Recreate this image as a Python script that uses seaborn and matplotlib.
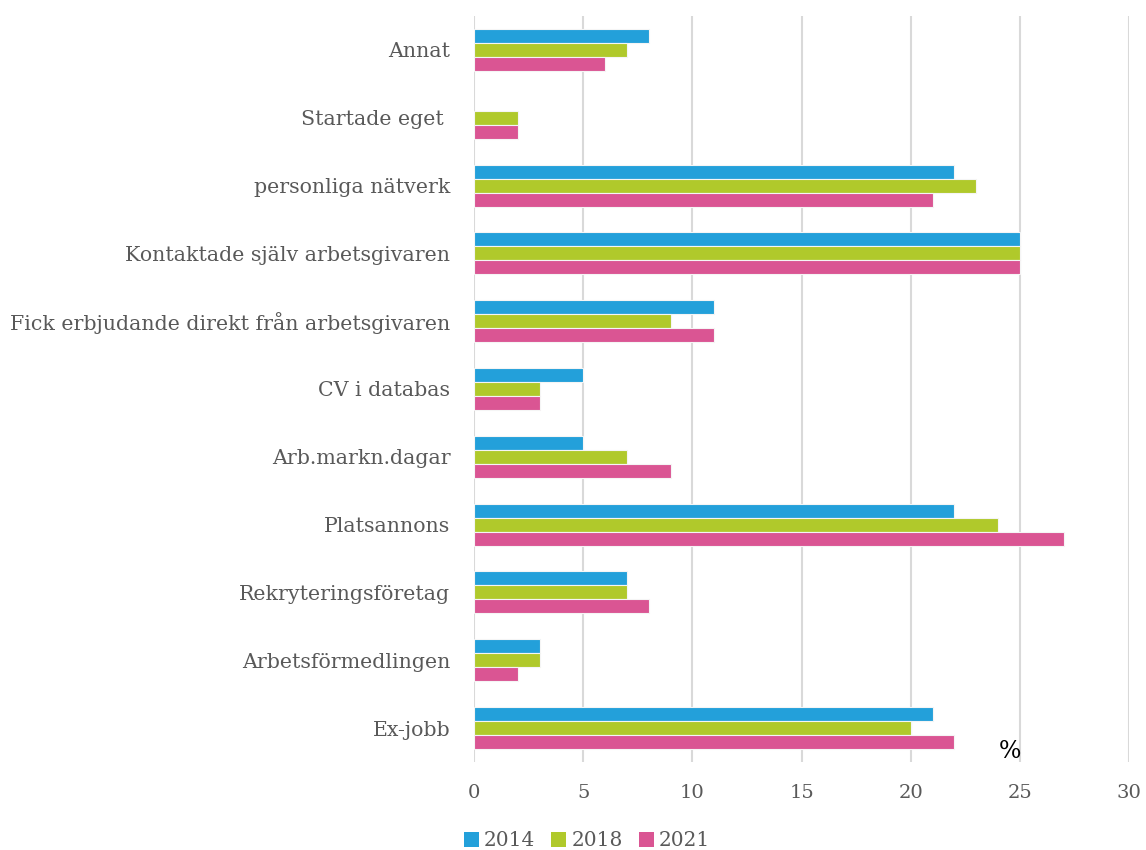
import matplotlib
matplotlib.use("Agg")
import matplotlib.pyplot as plt
import seaborn as sns
import pandas as pd
import numpy as np
from matplotlib.patches import Patch

categories = ["Annat", "Startade eget ", "personliga nätverk", "Kontaktade själv arbetsgivaren",
              "Fick erbjudande direkt från arbetsgivaren", "CV i databas", "Arb.markn.dagar",
              "Platsannons", "Rekryteringsföretag", "Arbetsförmedlingen", "Ex-jobb"]
years = ["2014", "2018", "2021"]
v2014 = [8, np.nan, 22, 25, 11, 5, 5, 22, 7, 3, 21]
v2018 = [7, 2, 23, 25, 9, 3, 7, 24, 7, 3, 20]
v2021 = [6, 2, 21, 25, 11, 3, 9, 27, 8, 2, 22]
colors = ["#23A0DA", "#B0C92B", "#DA5593"]

rows = []
for yr, vals in zip(years, [v2014, v2018, v2021]):
    for c, v in zip(categories, vals):
        rows.append({"cat": c, "year": yr, "val": v})
df = pd.DataFrame(rows)

sns.set_style("white")
plt.rcParams['font.family'] = ['DejaVu Serif', 'Liberation Serif']

fig = plt.figure(figsize=(11.46, 8.5), dpi=100)
ax = fig.add_axes([474/1146, 1-762/850, (1129-474)/1146, (762-16)/850])

sns.barplot(data=df, y="cat", x="val", hue="year", order=categories, hue_order=years,
            palette=colors, orient="h", width=0.62, ax=ax, legend=False,
            edgecolor="#F5F5F5", linewidth=0.8, saturation=1)

ax.set_xlim(0, 30)
ax.set_ylim(10.5, -0.5)
ax.set_xticks(range(0, 31, 5))
ax.xaxis.grid(True, color="#D9D9D9", linewidth=1.5)
ax.set_axisbelow(True)
for s in ax.spines.values():
    s.set_visible(False)
ax.set_xlabel("")
ax.set_ylabel("")
ax.tick_params(axis="y", length=0, pad=17, labelsize=14.8, labelcolor="#595959")
ax.tick_params(axis="x", length=0, pad=16, labelsize=14, labelcolor="#595959")

ax.text(24.55, 10.35, "%", ha="center", va="center", fontsize=17, color="black")

handles = [Patch(facecolor=c, edgecolor="none") for c in colors]
fig.legend(handles, years, loc="center", bbox_to_anchor=(587/1146, 1-841/850), ncol=3,
           frameon=False, fontsize=14.5, handlelength=0.75, handleheight=0.75,
           handletextpad=0.25, columnspacing=0.8, labelcolor="#595959")

fig.savefig("out.png", dpi=100)
